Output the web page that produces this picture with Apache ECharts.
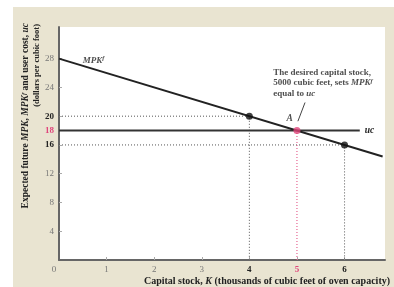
<!DOCTYPE html>
<html>
<head>
<meta charset="utf-8">
<script src="https://cdn.jsdelivr.net/npm/echarts@6/dist/echarts.min.js"></script>
<style>
  body { margin: 0; background: #fff; }
  #chart { width: 394px; height: 287px; }
</style>
</head>
<body>
<div id="chart"></div>
<script>
// values
var xTicks = [0, 1, 2, 3, 4, 5, 6];
var yTicks = [4, 8, 12, 16, 18, 20, 24, 28];
var mpkLine = [[0, 28], [6.8, 14.4]];
var ucLine = [[0, 18], [6.32, 18]];
var guide4 = [[0, 20], [4, 20], [4, 0]];
var guide6 = [[0, 16], [6, 16], [6, 0]];
var guide5 = [[5, 0], [5, 18]];
var blackDots = [[4, 20], [6, 16]];
var pinkDot = [[5, 18]];
var leader = [[5.02, 19.3], [5.17, 21.9]];

var pink = '#e0457b';
var serif = '"Liberation Serif", "DejaVu Serif", serif';

var chartDom = document.getElementById('chart');
var myChart = echarts.init(chartDom);

var option = {
  animation: false,
  backgroundColor: 'transparent',
  graphic: [
    { type: 'rect', z: -10, shape: { x: 13, y: 7, width: 381, height: 280 }, style: { fill: '#e9e4d1' } },
    {
      type: 'text', x: 26, y: 23, rotation: Math.PI / 2, z: 5,
      style: {
        text: 'Expected future {i|MPK}, {i|MPK}{s|f} and user cost, {i|uc}',
        fontFamily: serif, fontSize: 9.5, fontWeight: 'bold', fill: '#222',
        align: 'right', verticalAlign: 'middle',
        rich: {
          i: { fontStyle: 'italic', fontFamily: serif, fontSize: 9.5, fontWeight: 'bold' },
          s: { fontStyle: 'italic', fontFamily: serif, fontSize: 6.5, fontWeight: 'bold', verticalAlign: 'top' }
        }
      }
    },
    {
      type: 'text', x: 37, y: 24, rotation: Math.PI / 2, z: 5,
      style: {
        text: '(dollars per cubic foot)',
        fontFamily: serif, fontSize: 8.5, fontWeight: 'bold', fill: '#222',
        align: 'right', verticalAlign: 'middle'
      }
    },
    {
      type: 'text', x: 267, y: 281, z: 5,
      style: {
        text: 'Capital stock, {i|K} (thousands of cubic feet of oven capacity)',
        fontFamily: serif, fontSize: 10, fontWeight: 'bold', fill: '#222',
        align: 'center', verticalAlign: 'middle',
        rich: { i: { fontStyle: 'italic', fontFamily: serif, fontSize: 10, fontWeight: 'bold' } }
      }
    }
  ],
  grid: {
    left: 59, top: 27, right: 9, bottom: 27,
    show: true, backgroundColor: '#ffffff', borderWidth: 0
  },
  xAxis: {
    type: 'value', min: 0, max: 6.85,
    splitLine: { show: false },
    axisLine: { lineStyle: { color: '#666', width: 2 } },
    axisTick: { inside: true, length: 3, lineStyle: { color: '#aaa' }, customValues: [1, 2, 3, 4, 5, 6] },
    axisLabel: {
      customValues: xTicks, margin: 5,
      fontFamily: serif, fontSize: 9,
      formatter: function (v) {
        if (v === 0) return '{z|0}';
        if (v === 5) return '{p|5}';
        if (v >= 4) return '{b|' + v + '}';
        return '{n|' + v + '}';
      },
      rich: {
        z: { color: '#777', fontFamily: serif, fontSize: 9, padding: [0, 10, 0, 0] },
        n: { color: '#777', fontFamily: serif, fontSize: 9 },
        b: { color: '#222', fontFamily: serif, fontSize: 9, fontWeight: 'bold' },
        p: { color: pink, fontFamily: serif, fontSize: 9, fontWeight: 'bold' }
      }
    }
  },
  yAxis: {
    type: 'value', min: 0, max: 32.4,
    splitLine: { show: false },
    axisLine: { show: true, lineStyle: { color: '#666', width: 2 } },
    axisTick: { show: true, inside: true, length: 3, lineStyle: { color: '#aaa' }, customValues: yTicks },
    axisLabel: {
      customValues: yTicks, margin: 5,
      fontFamily: serif, fontSize: 9,
      formatter: function (v) {
        if (v === 18) return '{p|18}';
        if (v === 16 || v === 20) return '{b|' + v + '}';
        return '{n|' + v + '}';
      },
      rich: {
        n: { color: '#777', fontFamily: serif, fontSize: 9 },
        b: { color: '#222', fontFamily: serif, fontSize: 9, fontWeight: 'bold' },
        p: { color: pink, fontFamily: serif, fontSize: 9, fontWeight: 'bold' }
      }
    }
  },
  series: [
    {
      type: 'line', data: guide4, symbol: 'none', silent: true,
      lineStyle: { color: '#555', width: 1, type: [1, 2] }
    },
    {
      type: 'line', data: guide6, symbol: 'none', silent: true,
      lineStyle: { color: '#555', width: 1, type: [1, 2] }
    },
    {
      type: 'line', data: guide5, symbol: 'none', silent: true,
      lineStyle: { color: pink, width: 1, type: [1, 2] }
    },
    {
      type: 'line', data: ucLine, symbol: 'none', silent: true,
      lineStyle: { color: '#333', width: 2 },
      endLabel: {
        show: true, distance: 5, formatter: 'uc',
        fontFamily: serif, fontStyle: 'italic', fontWeight: 'bold', fontSize: 9.5, color: '#222'
      }
    },
    {
      type: 'line', data: mpkLine, symbol: 'none', silent: true,
      lineStyle: { color: '#222', width: 2 }
    },
    {
      type: 'line', data: leader, symbol: 'none', silent: true,
      lineStyle: { color: '#444', width: 1 }
    },
    {
      type: 'scatter', data: blackDots, symbolSize: 7, silent: true,
      itemStyle: { color: '#111' }, z: 4
    },
    {
      type: 'scatter', data: pinkDot, symbolSize: 7, silent: true,
      itemStyle: { color: pink }, z: 4,
      label: {
        show: true, position: [-7, -14], formatter: 'A',
        fontFamily: serif, fontStyle: 'italic', fontWeight: 'bold', fontSize: 9.5, color: '#222'
      }
    },
    {
      // text labels placed at data positions
      type: 'scatter', symbolSize: 0, silent: true,
      data: [
        { value: [0.5, 28.5], label: { formatter: '{i|MPK}{s|f}' } },
        { value: [4.5, 26.8], label: { formatter: 'The desired capital stock,\n5000 cubic feet, sets {i|MPK}{s|f}\nequal to {i|uc}' } }
      ],
      label: {
        show: true, position: 'right', distance: 0, align: 'left', verticalAlign: 'top',
        fontFamily: serif, fontWeight: 'bold', fontSize: 9, lineHeight: 10.5, color: '#222',
        rich: {
          i: { fontFamily: serif, fontStyle: 'italic', fontWeight: 'bold', fontSize: 9, lineHeight: 10.5 },
          s: { fontFamily: serif, fontStyle: 'italic', fontWeight: 'bold', fontSize: 6.5, verticalAlign: 'top', lineHeight: 10.5 }
        }
      }
    }
  ]
};

option && myChart.setOption(option);
</script>
</body>
</html>
